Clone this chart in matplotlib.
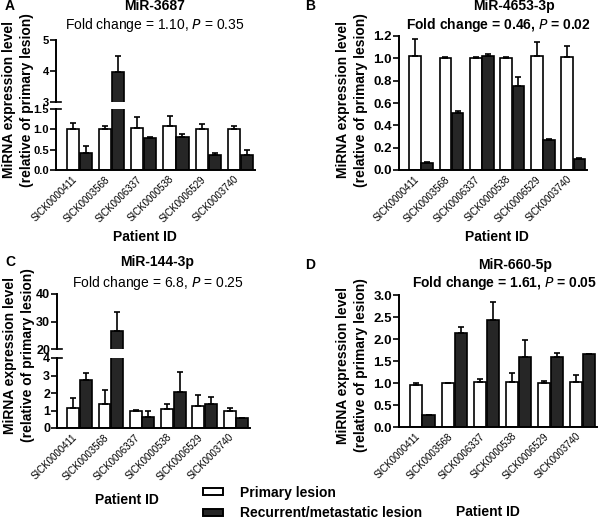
import matplotlib
matplotlib.use("Agg")
import matplotlib.pyplot as plt
import numpy as np
from matplotlib.patches import Patch

plt.rcParams["font.family"] = ["Liberation Sans", "DejaVu Sans"]

patients = ["SICK0000411", "SICK0003568", "SICK0006337",
            "SICK0000538", "SICK0006529", "SICK0003740"]

# MiR-3687
a_prim = [1.02, 1.00, 1.03, 1.07, 1.00, 1.00]
a_prim_err = [0.14, 0.07, 0.27, 0.25, 0.12, 0.08]
a_rec = [0.42, 3.97, 0.78, 0.81, 0.38, 0.38]
a_rec_err = [0.16, 0.52, 0.03, 0.07, 0.04, 0.12]

# MiR-4653-3p
b_prim = [1.02, 1.00, 1.00, 1.00, 1.02, 1.01]
b_prim_err = [0.15, 0.01, 0.01, 0.01, 0.13, 0.10]
b_rec = [0.06, 0.51, 1.02, 0.75, 0.27, 0.10]
b_rec_err = [0.01, 0.02, 0.02, 0.08, 0.01, 0.01]

# MiR-144-3p
c_prim = [1.12, 1.38, 1.00, 1.07, 1.27, 1.00]
c_prim_err = [0.60, 0.80, 0.05, 0.32, 0.60, 0.17]
c_rec = [2.75, 26.6, 0.65, 2.05, 1.40, 0.55]
c_rec_err = [0.40, 7.0, 0.30, 1.15, 0.40, 0.05]

# MiR-660-5p
d_prim = [0.95, 1.00, 1.02, 1.02, 1.00, 1.02]
d_prim_err = [0.05, 0.01, 0.06, 0.20, 0.05, 0.17]
d_rec = [0.27, 2.13, 2.44, 1.59, 1.59, 1.65]
d_rec_err = [0.00, 0.14, 0.40, 0.39, 0.09, 0.01]

W, H = 600, 519
BLACK = "#262626"
x = np.arange(len(patients))
bw = 0.38


def fx(px):
    return px / W


def fy(py):
    return 1 - py / H


def add_ax(fig, left, right, top, bottom):
    ax = fig.add_axes([fx(left), fy(bottom), fx(right - left), (bottom - top) / H])
    for s in ["top", "right"]:
        ax.spines[s].set_visible(False)
    for s in ["left", "bottom"]:
        ax.spines[s].set_linewidth(1.4)
    ax.tick_params(axis="y", direction="out", length=4, width=1.2, pad=1)
    ax.tick_params(axis="x", length=0, pad=3)
    ax.set_xlim(-0.72, 5.45)
    return ax


def draw_bars(ax, prim, prim_err, rec, rec_err):
    ax.bar(x - bw / 2 - 0.01, prim, bw, color="white", edgecolor="black", linewidth=1.2,
           yerr=[np.zeros(6), prim_err], capsize=2.5,
           error_kw=dict(elinewidth=1.2, capthick=1.2, ecolor="black"))
    ax.bar(x + bw / 2 + 0.01, rec, bw, color=BLACK, edgecolor="black", linewidth=1.2,
           yerr=[np.zeros(6), rec_err], capsize=2.5,
           error_kw=dict(elinewidth=1.2, capthick=1.2, ecolor="black"))


def style_xticks(ax, fs):
    ax.set_xticks(x)
    ax.set_xticklabels(patients, rotation=45, ha="right", fontsize=fs)


def break_marks(ax_low, ax_up):
    kw = dict(color="black", linewidth=1.2, clip_on=False)
    ax_low.plot([0, 0.025], [1, 1.0], transform=ax_low.transAxes, **kw)
    ax_up.plot([0, 0.025], [0, 0.0], transform=ax_up.transAxes, **kw)


fig = plt.figure(figsize=(W / 100, H / 100), dpi=100)

# ---- Panel A (broken axis) ----
a_low = add_ax(fig, 56, 255, 109, 170)
a_up = add_ax(fig, 56, 255, 40, 102)
for ax in (a_low, a_up):
    draw_bars(ax, a_prim, a_prim_err, a_rec, a_rec_err)
a_low.set_ylim(0, 1.5)
a_low.set_yticks([0, 0.5, 1.0, 1.5])
a_low.set_yticklabels(["0.0", "0.5", "1.0", "1.5"], fontsize=8, fontweight="bold")
a_up.set_ylim(3, 5)
a_up.set_yticks([3, 4, 5])
a_up.set_yticklabels(["3", "4", "5"], fontsize=8, fontweight="bold")
a_up.spines["bottom"].set_visible(False)
a_up.set_xticks([])
style_xticks(a_low, 7)
break_marks(a_low, a_up)

# ---- Panel B ----
b_ax = add_ax(fig, 399, 587, 36, 170)
draw_bars(b_ax, b_prim, b_prim_err, b_rec, b_rec_err)
b_ax.set_ylim(0, 1.2)
b_ax.set_yticks(np.arange(0, 1.21, 0.2))
b_ax.set_yticklabels(["0.0", "0.2", "0.4", "0.6", "0.8", "1.0", "1.2"],
                     fontsize=9.5, fontweight="bold")
style_xticks(b_ax, 7)

# ---- Panel C (broken axis) ----
c_low = add_ax(fig, 57, 250, 358, 428)
c_up = add_ax(fig, 57, 250, 294, 349)
for ax in (c_low, c_up):
    draw_bars(ax, c_prim, c_prim_err, c_rec, c_rec_err)
c_low.set_ylim(0, 4)
c_low.set_yticks([0, 1, 2, 3, 4])
c_low.set_yticklabels(["0", "1", "2", "3", "4"], fontsize=9, fontweight="bold")
c_up.set_ylim(20, 40)
c_up.set_yticks([20, 30, 40])
c_up.set_yticklabels(["20", "30", "40"], fontsize=9, fontweight="bold")
c_up.spines["bottom"].set_visible(False)
c_up.set_xticks([])
style_xticks(c_low, 7)
break_marks(c_low, c_up)

# ---- Panel D ----
d_ax = add_ax(fig, 399, 597, 295, 427)
draw_bars(d_ax, d_prim, d_prim_err, d_rec, d_rec_err)
d_ax.set_ylim(0, 3.0)
d_ax.set_yticks(np.arange(0, 3.01, 0.5))
d_ax.set_yticklabels(["0.0", "0.5", "1.0", "1.5", "2.0", "2.5", "3.0"],
                     fontsize=9.5, fontweight="bold")
style_xticks(d_ax, 7)

# ---- texts ----
ylab = "MiRNA expression level\n(relative of primary lesion)"
panels = [
    ("A", 5, 6, "MiR-3687", 155, 6, "Fold change = 1.10, $\\it{P}$ = 0.35", 155, 25, "normal", 18, 100, 145, 237),
    ("B", 305, 6, "MiR-4653-3p", 514, 6, "Fold change = 0.46, $\\mathbf{\\it{P}}$ = 0.02", 498, 25, "bold", 352, 100, 497, 237),
    ("C", 5, 262, "MiR-144-3p", 157, 262, "Fold change = 6.8, $\\it{P}$ = 0.25", 158, 283, "normal", 19, 355, 127, 500),
    ("D", 305, 265, "MiR-660-5p", 515, 265, "Fold change = 1.61, $\\mathbf{\\it{P}}$ = 0.05", 505, 283, "bold", 352, 365, 488, 512),
]
for lab, lx, ly, title, tx, ty, fc, fcx, fcy, fcw, ylx, yly, px_, py_ in panels:
    fig.text(fx(lx), fy(ly), lab, fontsize=10, fontweight="bold", ha="left", va="center")
    fig.text(fx(tx), fy(ty), title, fontsize=10, fontweight="bold", ha="center", va="center")
    fig.text(fx(fcx), fy(fcy), fc, fontsize=10, fontweight=fcw, ha="center", va="center")
    fig.text(fx(ylx), fy(yly), ylab, fontsize=10, fontweight="bold", rotation=90,
             ha="center", va="center", linespacing=1.35, multialignment="center")
    fig.text(fx(px_), fy(py_), "Patient ID", fontsize=10, fontweight="bold",
             ha="center", va="center")

handles = [Patch(facecolor="white", edgecolor="black", linewidth=1.4),
           Patch(facecolor=BLACK, edgecolor="black", linewidth=1.4)]
fig.legend(handles, ["Primary lesion", "Recurrent/metastatic lesion"],
           loc="center left", bbox_to_anchor=(fx(203), fy(503)), frameon=False,
           borderpad=0, borderaxespad=0,
           handlelength=1.45, handleheight=0.35, handletextpad=1.2, labelspacing=0.5,
           prop=dict(weight="bold", size=10))

fig.savefig("out.png", dpi=100)
